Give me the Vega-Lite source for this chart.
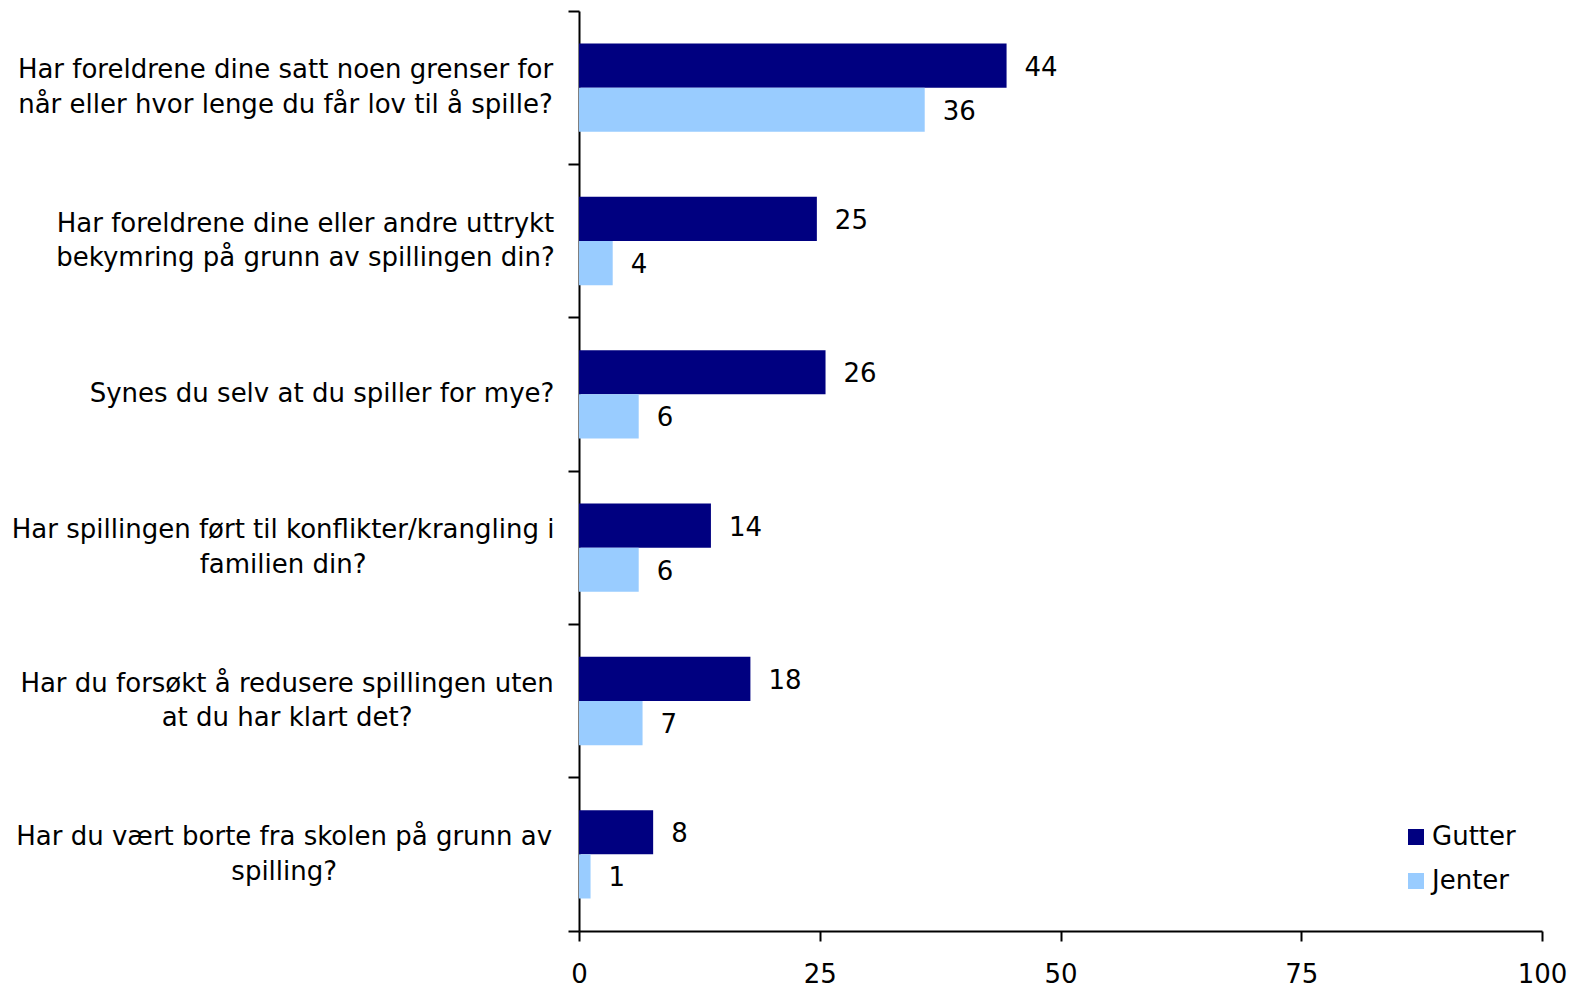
{
  "$schema": "https://vega.github.io/schema/vega-lite/v6.json",
  "width": 963,
  "height": 920,
  "autosize": {"type": "none"},
  "padding": {"left": 579, "top": 11, "right": 43, "bottom": 56},
  "background": "white",
  "data": {
    "values": [
      {"q": "Har foreldrene dine satt noen grenser for|når eller hvor lenge du får lov til å spille?", "k": "Gutter", "v": 44.4},
      {"q": "Har foreldrene dine satt noen grenser for|når eller hvor lenge du får lov til å spille?", "k": "Jenter", "v": 35.9},
      {"q": "Har foreldrene dine eller andre uttrykt|bekymring på grunn av spillingen din?", "k": "Gutter", "v": 24.7},
      {"q": "Har foreldrene dine eller andre uttrykt|bekymring på grunn av spillingen din?", "k": "Jenter", "v": 3.5},
      {"q": "Synes du selv at du spiller for mye?", "k": "Gutter", "v": 25.6},
      {"q": "Synes du selv at du spiller for mye?", "k": "Jenter", "v": 6.2},
      {"q": "Har spillingen ført til konflikter/krangling i|familien din?", "k": "Gutter", "v": 13.7},
      {"q": "Har spillingen ført til konflikter/krangling i|familien din?", "k": "Jenter", "v": 6.2},
      {"q": "Har du forsøkt å redusere spillingen uten|at du har klart det?", "k": "Gutter", "v": 17.8},
      {"q": "Har du forsøkt å redusere spillingen uten|at du har klart det?", "k": "Jenter", "v": 6.6},
      {"q": "Har du vært borte fra skolen på grunn av|spilling?", "k": "Gutter", "v": 7.7},
      {"q": "Har du vært borte fra skolen på grunn av|spilling?", "k": "Jenter", "v": 1.2}
    ]
  },
  "encoding": {
    "y": {
      "field": "q",
      "type": "nominal",
      "sort": null,
      "scale": {"paddingInner": 0, "paddingOuter": 0},
      "axis": {
        "title": null,
        "bandPosition": 1,
        "tickExtra": true,
        "tickSize": 11,
        "tickWidth": 2,
        "tickColor": "black",
        "domainColor": "black",
        "domainWidth": 2,
        "labelExpr": "split(datum.label, '|')",
        "labelAlign": "center",
        "labelBaseline": "middle",
        "labelLineHeight": 34.5,
        "labelOffset": {
          "condition": {"test": "datum.value === 'Synes du selv at du spiller for mye?'", "value": 0},
          "value": -17.25
        },
        "labelFont": "DejaVu Sans",
        "labelFontSize": 26,
        "labelColor": "black",
        "labelLimit": 0,
        "labelPadding": {
          "condition": [
            {"test": "datum.value === 'Har foreldrene dine satt noen grenser for|når eller hvor lenge du får lov til å spille?'", "value": 283},
            {"test": "datum.value === 'Har foreldrene dine eller andre uttrykt|bekymring på grunn av spillingen din?'", "value": 263},
            {"test": "datum.value === 'Synes du selv at du spiller for mye?'", "value": 246.5},
            {"test": "datum.value === 'Har spillingen ført til konflikter/krangling i|familien din?'", "value": 285.4},
            {"test": "datum.value === 'Har du forsøkt å redusere spillingen uten|at du har klart det?'", "value": 281.4}
          ],
          "value": 284.3
        }
      }
    },
    "yOffset": {
      "field": "k",
      "type": "nominal",
      "scale": {"paddingInner": 0, "paddingOuter": 0.736}
    },
    "x": {
      "field": "v",
      "type": "quantitative",
      "scale": {"domain": [0, 100], "nice": false},
      "axis": {
        "title": null,
        "values": [0, 25, 50, 75, 100],
        "grid": false,
        "tickSize": 10,
        "tickWidth": 2,
        "tickColor": "black",
        "domainColor": "black",
        "domainWidth": 2,
        "labelFont": "DejaVu Sans",
        "labelFontSize": 26,
        "labelColor": "black",
        "labelPadding": 20,
        "labelFlush": false
      }
    }
  },
  "layer": [
    {
      "mark": {"type": "bar"},
      "encoding": {
        "color": {
          "field": "k",
          "type": "nominal",
          "scale": {"domain": ["Gutter", "Jenter"], "range": ["#000080", "#99CCFF"]},
          "legend": {
            "title": null,
            "orient": "none",
            "legendX": 824,
            "legendY": 813,
            "symbolType": "square",
            "symbolSize": 256,
            "symbolStrokeWidth": 0,
            "labelFont": "DejaVu Sans",
            "labelFontSize": 26,
            "labelColor": "black",
            "labelOffset": 3,
            "rowPadding": 18,
            "padding": 0
          }
        }
      }
    },
    {
      "mark": {"type": "text", "align": "left", "baseline": "middle", "dx": 18, "dy": 2, "font": "DejaVu Sans", "fontSize": 26, "color": "black"},
      "encoding": {
        "text": {"field": "v", "type": "quantitative", "format": ".0f"}
      }
    }
  ],
  "config": {
    "view": {"stroke": null}
  }
}
